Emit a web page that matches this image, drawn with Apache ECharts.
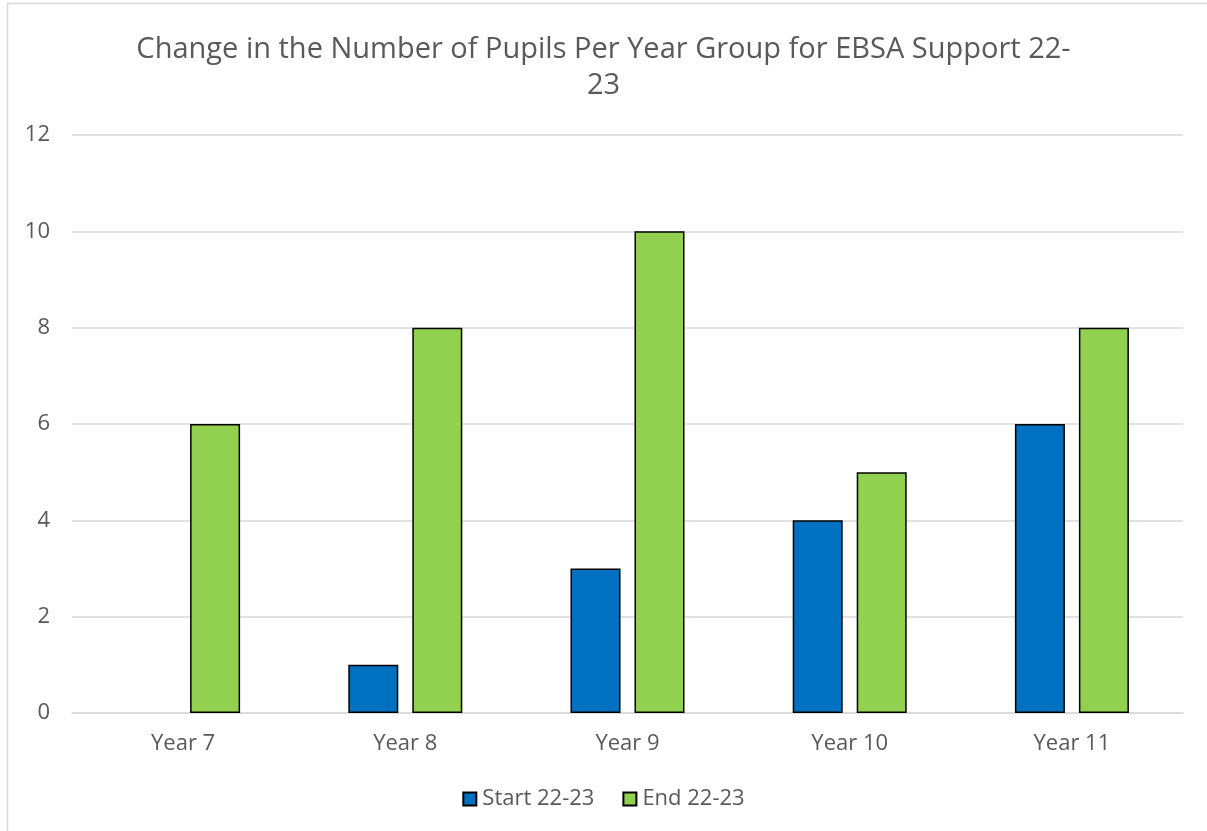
<!DOCTYPE html>
<html><head><meta charset="utf-8">
<script src="https://cdn.jsdelivr.net/npm/echarts@6/dist/echarts.min.js"></script>
<style>html,body{margin:0;padding:0;background:#fff}#c{width:1207px;height:831px}</style>
</head><body><div id="c"></div>
<script>
const categories = ['Year 7','Year 8','Year 9','Year 10','Year 11'];
const startValues = [0, 1, 3, 4, 6];
const endValues = [6, 8, 10, 5, 8];
const seriesNames = ['Start 22-23','End 22-23'];
const titleText = 'Change in the Number of Pupils Per Year Group for EBSA Support 22-\n23';

const chart = echarts.init(document.getElementById('c'));
const txt = '#595959';
const font = '"Open Sans", Roboto, sans-serif';
const noZeroBorder = arr => arr.map(v => v === 0 ? {value: v, itemStyle: {borderWidth: 0}} : v);
chart.setOption({
  animation:false,
  graphic:[{type:'rect',shape:{x:7.5,y:3.5,width:1220,height:840},style:{fill:'none',stroke:'#d9d9d9',lineWidth:1.5},silent:true}],
  title:{text:titleText,left:'center',top:27,textStyle:{color:txt,fontSize:29,fontWeight:'normal',fontFamily:font,lineHeight:36}},
  legend:{bottom:16,left:'center',itemWidth:13,itemHeight:13,itemGap:28,icon:'rect',
    textStyle:{color:txt,fontSize:22,fontFamily:font,padding:[0,0,0,1]},data:seriesNames},
  grid:{left:72,right:24,top:135,bottom:118,containLabel:false},
  xAxis:{type:'category',data:categories,axisTick:{show:false},
    axisLine:{lineStyle:{color:'#d9d9d9',width:1.5}},
    axisLabel:{color:txt,fontSize:22,fontFamily:font,margin:20}},
  yAxis:{type:'value',min:0,max:12,interval:2,axisLine:{show:false},axisTick:{show:false},
    splitLine:{lineStyle:{color:'#d9d9d9',width:1.5}},
    axisLabel:{color:txt,fontSize:22,fontFamily:font,margin:22}},
  series:[
    {name:seriesNames[0],type:'bar',data:noZeroBorder(startValues),barWidth:50,barGap:'28%',
     itemStyle:{color:'#0070C0',borderColor:'#000',borderWidth:1.5}},
    {name:seriesNames[1],type:'bar',data:noZeroBorder(endValues),barWidth:50,barGap:'28%',
     itemStyle:{color:'#92D050',borderColor:'#000',borderWidth:1.5}}
  ]
});
</script></body></html>
